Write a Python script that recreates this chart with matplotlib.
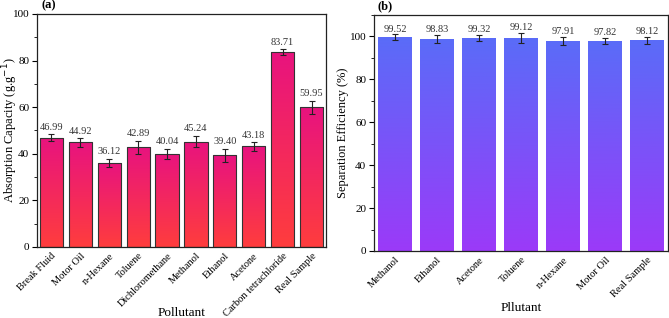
import numpy as np
import matplotlib
matplotlib.use("Agg")
import matplotlib.pyplot as plt
from matplotlib.colors import LinearSegmentedColormap
from matplotlib.ticker import MultipleLocator

plt.rcParams['font.family'] = ['Liberation Serif', 'DejaVu Serif']

cats_a = ["Break Fluid", "Motor Oil", "n-Hexane", "Toluene", "Dichloromethane",
          "Methanol", "Ethanol", "Acetone", "Carbon tetrachloride", "Real Sample"]
vals_a = [46.99, 44.92, 36.12, 42.89, 40.04, 45.24, 39.40, 43.18, 83.71, 59.95]
err_a = [1.5, 1.8, 1.8, 2.8, 2.2, 2.5, 2.8, 1.8, 1.2, 2.8]

cats_b = ["Methanol", "Ethanol", "Acetone", "Toluene", "n-Hexane", "Motor Oil", "Real Sample"]
vals_b = [99.52, 98.83, 99.32, 99.12, 97.91, 97.82, 98.12]
err_b = [1.4, 2.0, 1.5, 2.4, 1.8, 1.4, 1.8]

cmap_a = LinearSegmentedColormap.from_list("a", ["#FF3D3D", "#E8137F"])
cmap_b = LinearSegmentedColormap.from_list("b", ["#9B3AF8", "#5A6CF8"])

fig = plt.figure(figsize=(6.69, 3.18), dpi=100)
ax1 = fig.add_axes([0.0553, 0.2233, 0.432, 0.7327])
ax2 = fig.add_axes([0.559, 0.2107, 0.4395, 0.7423])

grad = np.linspace(0, 1, 256).reshape(-1, 1)

def draw(ax, cats, vals, errs, cmap, ymax, edge, width, lab_off):
    x = np.arange(len(cats))
    bars = ax.bar(x, vals, width=width, color='none',
                  edgecolor=edge if edge else 'none', linewidth=0.8, zorder=3)
    for b, v in zip(bars, vals):
        im = ax.imshow(grad, extent=[b.get_x(), b.get_x() + b.get_width(), 0, v],
                       origin='lower', aspect='auto', cmap=cmap, zorder=2)
        im.set_clip_path(b)
    ax.errorbar(x, vals, yerr=errs, fmt='none', ecolor='#222222', elinewidth=0.8,
                capsize=2.5, capthick=0.8, zorder=4)
    for xi, v, e in zip(x, vals, errs):
        ax.text(xi, v + e + lab_off, f"{v:.2f}", ha='center', va='bottom', fontsize=7.5, color='#333333')
    ax.set_xlim(-0.5, len(cats) - 0.5)
    ax.set_ylim(0, ymax)
    ax.set_xticks(x)
    ax.set_xticklabels(cats, rotation=45, ha='right', rotation_mode='anchor', fontsize=7.5)
    ax.tick_params(axis='x', length=0, pad=3)
    ax.yaxis.set_major_locator(MultipleLocator(20))
    ax.yaxis.set_minor_locator(MultipleLocator(10))
    ax.tick_params(axis='y', which='major', labelsize=8, length=3.5, direction='out', pad=2)
    ax.tick_params(axis='y', which='minor', length=2, direction='out')
    for s in ax.spines.values():
        s.set_linewidth(0.9)
        s.set_color('#222222')

draw(ax1, cats_a, vals_a, err_a, cmap_a, 100, '#333333', 0.8, 1.0)
draw(ax2, cats_b, vals_b, err_b, cmap_b, 110, None, 0.8, 0.3)

ax1.set_ylabel("Absorption Capacity (g.g$^{-1}$)", fontsize=9, va='center')
ax1.yaxis.set_label_coords(-0.094, 0.5)
ax1.set_xlabel("Pollutant", fontsize=9.5)
ax1.xaxis.set_label_coords(0.5, -0.283)
ax1.xaxis.label.set_va('center')
ax2.set_ylabel("Separation Efficiency (%)", fontsize=9, va='center')
ax2.yaxis.set_label_coords(-0.105, 0.5)
ax2.set_xlabel("Pllutant", fontsize=9.5)
ax2.xaxis.set_label_coords(0.5, -0.24)
ax2.xaxis.label.set_va('center')

fig.text(0.0553 + 0.006, 0.965, "(a)", fontsize=9, fontweight='bold', va='bottom')
fig.text(0.559 + 0.006, 0.962, "(b)", fontsize=9, fontweight='bold', va='bottom')

fig.savefig("out.png", dpi=100)
